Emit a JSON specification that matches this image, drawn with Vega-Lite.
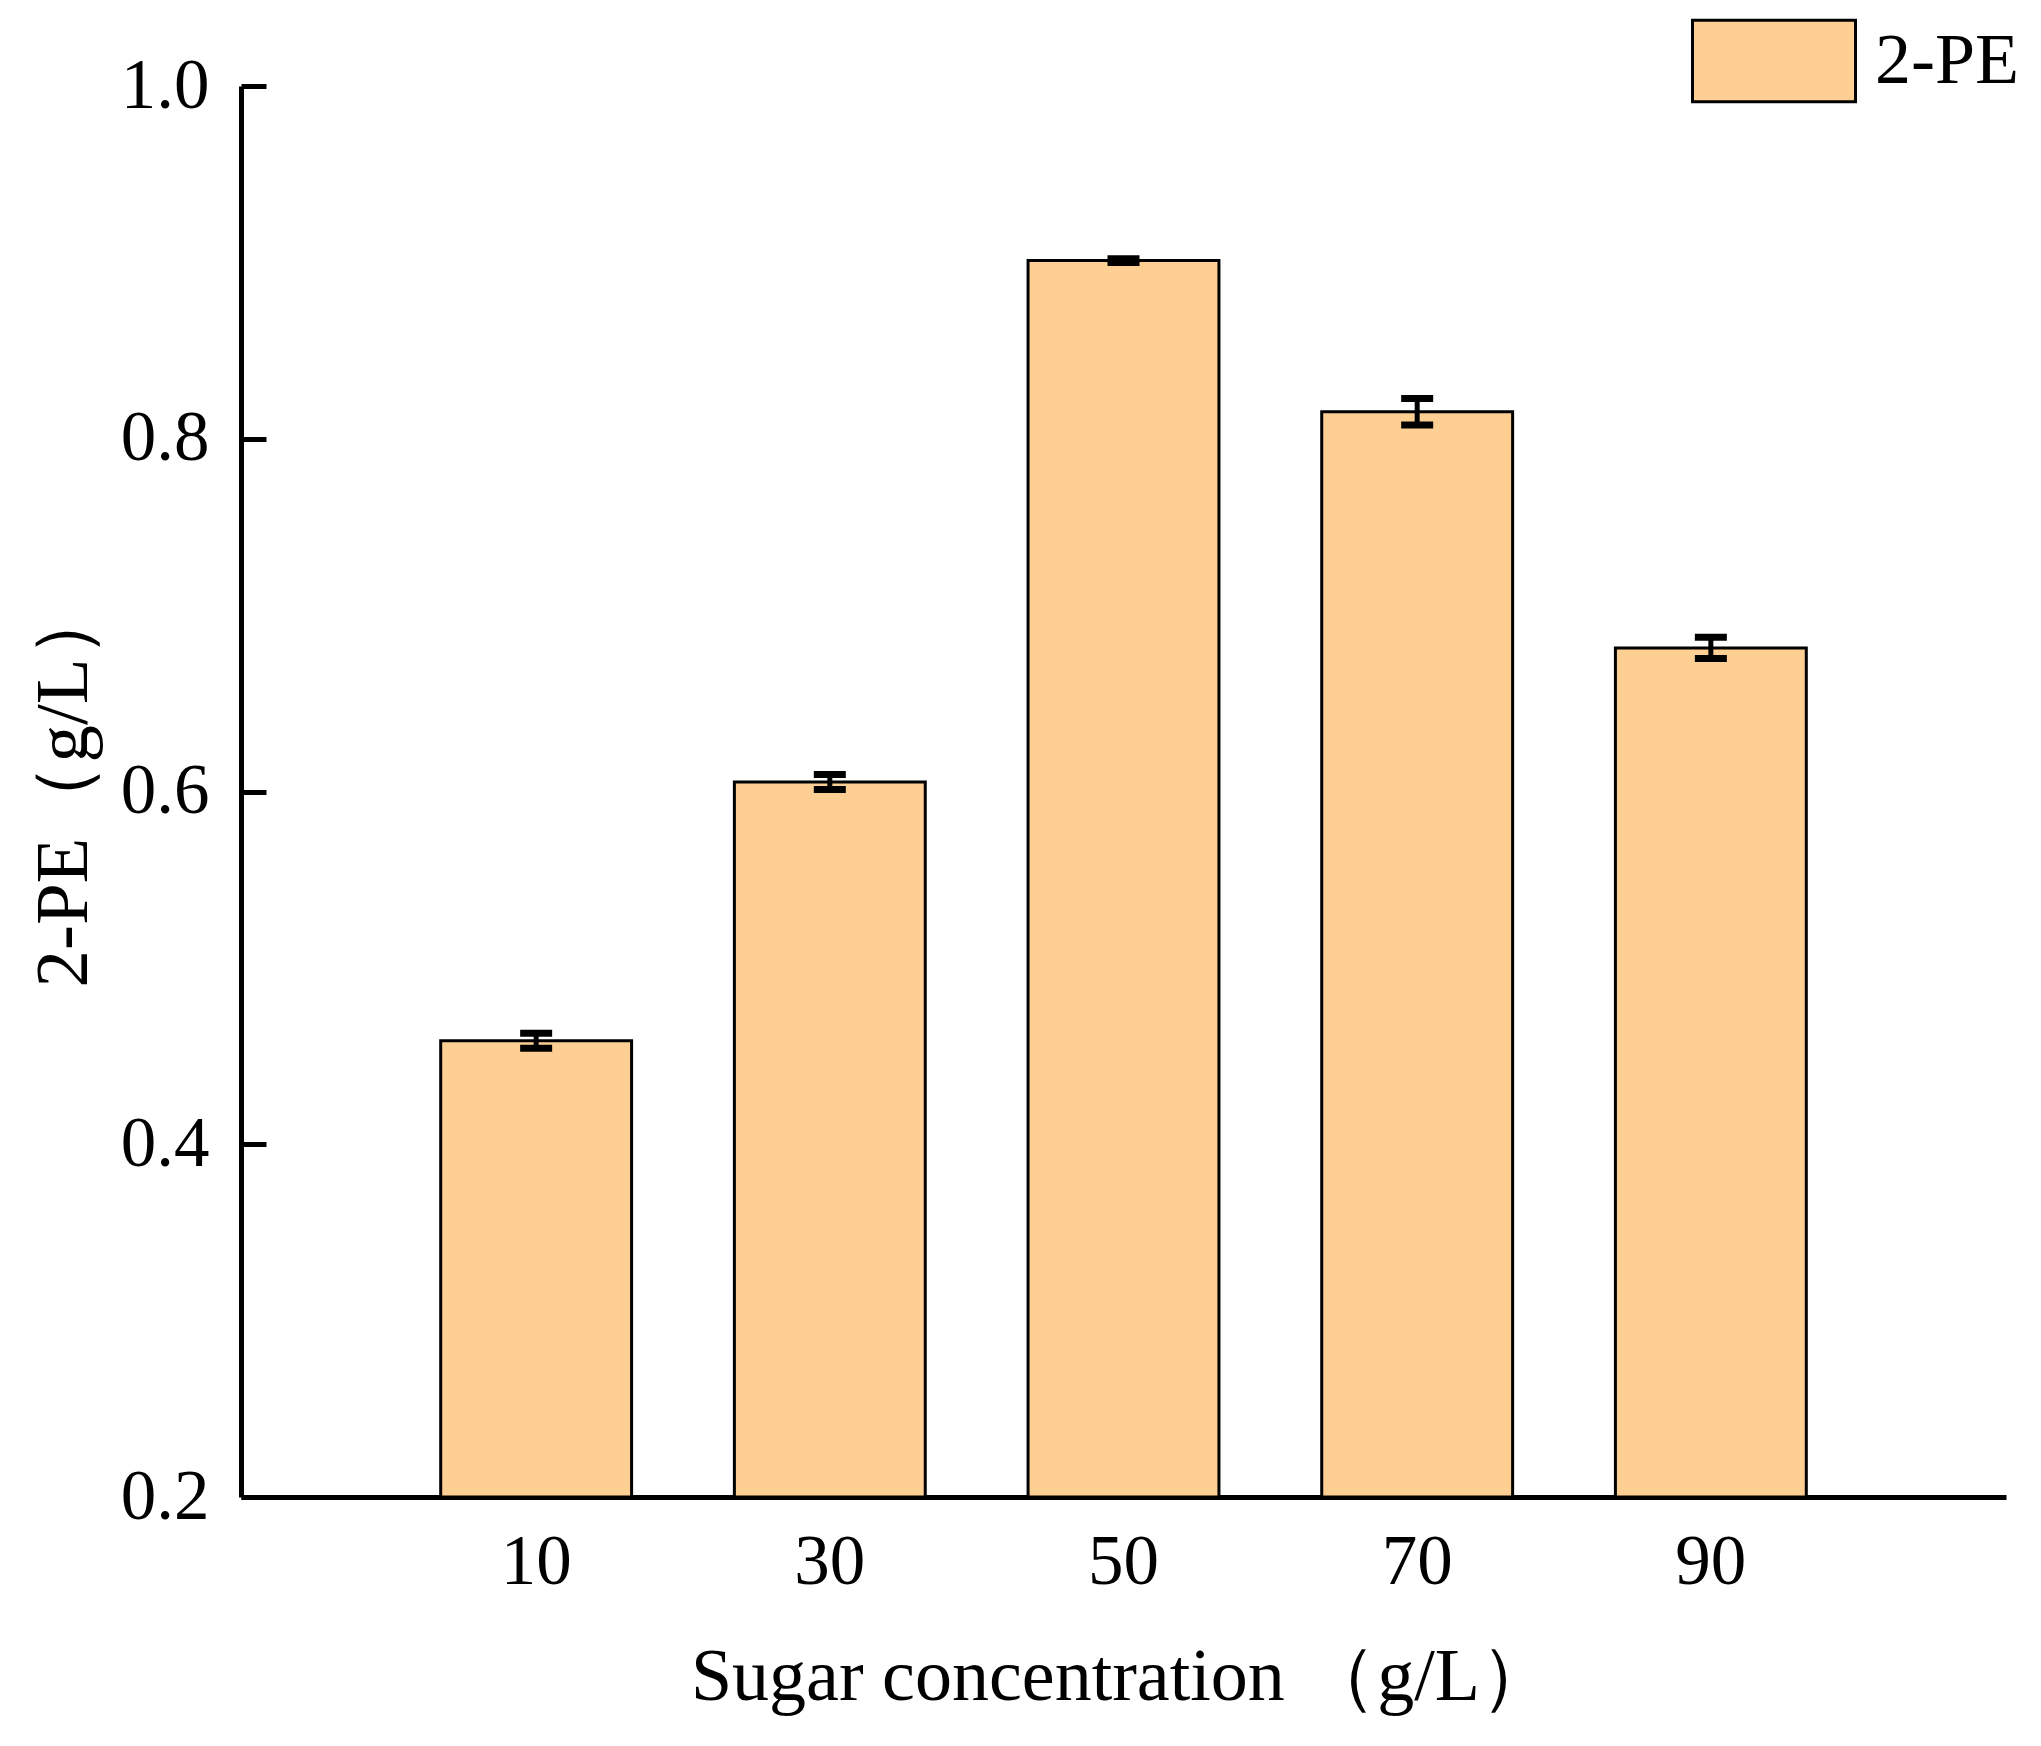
{
  "$schema": "https://vega.github.io/schema/vega-lite/v6.json",
  "width": 1765,
  "height": 1411,
  "autosize": {"type": "none"},
  "padding": {"left": 241, "top": 86, "right": 35, "bottom": 249},
  "background": "white",
  "config": {"view": {"stroke": null}, "font": "Liberation Serif"},
  "data": {
    "values": [
      {"sugar": "10", "value": 0.4587, "err": 0.0042},
      {"sugar": "30", "value": 0.6054, "err": 0.0043},
      {"sugar": "50", "value": 0.901, "err": 0.001},
      {"sugar": "70", "value": 0.8153, "err": 0.0075},
      {"sugar": "90", "value": 0.6814, "err": 0.006}
    ]
  },
  "layer": [
    {
      "mark": {"type": "bar", "stroke": "black", "strokeWidth": 3},
      "encoding": {
        "x": {
          "field": "sugar", "type": "ordinal", "sort": null,
          "scale": {"paddingInner": 0.35, "paddingOuter": 0.68},
          "axis": {
            "title": "Sugar concentration （g/L）",
            "labelAngle": 0, "ticks": false,
            "labelFont": "Liberation Serif", "labelFontSize": 71, "labelColor": "black", "labelPadding": 30,
            "domainWidth": 5, "domainColor": "black",
            "titleFont": "Liberation Serif", "titleFontSize": 74, "titleFontWeight": "normal", "titleColor": "black",
            "titleX": 881, "titleY": 180, "titleBaseline": "middle", "titleAlign": "center"
          }
        },
        "y": {
          "field": "value", "type": "quantitative",
          "title": "2-PE（g/L）",
          "scale": {"domain": [0.2, 1.0], "zero": false, "nice": false},
          "axis": {
            "values": [0.2, 0.4, 0.6, 0.8, 1.0], "format": ".1f",
            "grid": false,
            "tickSize": -25, "tickWidth": 5, "tickColor": "black",
            "domainWidth": 5, "domainColor": "black",
            "labelFont": "Liberation Serif", "labelFontSize": 71, "labelColor": "black", "labelPadding": 57,
            "labelFlush": false, "labelOverlap": false,
            "titleFont": "Liberation Serif", "titleFontSize": 75, "titleFontWeight": "normal", "titleColor": "black",
            "titleX": -178, "titleY": 699, "titleAngle": 270, "titleBaseline": "middle", "titleAlign": "center"
          }
        },
        "y2": {"datum": 0.2},
        "fill": {
          "datum": "2-PE", "type": "nominal",
          "scale": {"range": ["#FECF92"]},
          "legend": {
            "orient": "none", "legendX": 1450, "legendY": -108, "title": null, "padding": 0,
            "symbolType": "M-1,-0.5H1V0.5H-1Z", "symbolSize": 26569,
            "symbolStrokeColor": "black", "symbolStrokeWidth": 3, "symbolOpacity": 1,
            "labelFont": "Liberation Serif", "labelFontSize": 72, "labelColor": "black", "labelOffset": 18
          }
        }
      }
    },
    {
      "mark": {
        "type": "errorbar", "color": "black", "opacity": 1,
        "ticks": {"size": 32, "thickness": 7, "color": "black", "opacity": 1},
        "rule": {"strokeWidth": 5, "color": "black", "opacity": 1}
      },
      "encoding": {
        "x": {"field": "sugar", "type": "ordinal", "sort": null},
        "y": {"field": "value", "type": "quantitative", "title": "2-PE（g/L）"},
        "yError": {"field": "err"}
      }
    }
  ]
}
